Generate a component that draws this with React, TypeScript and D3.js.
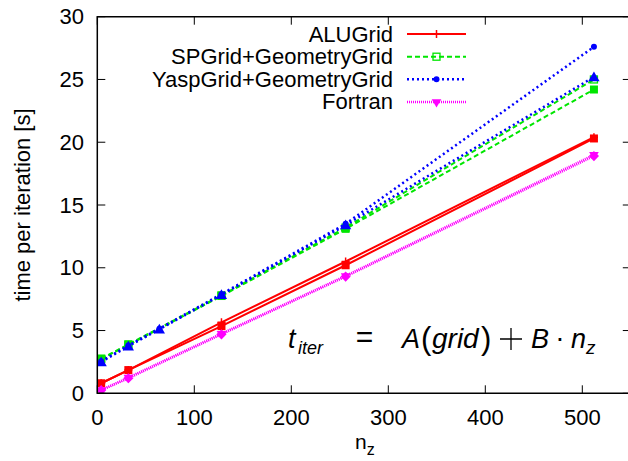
import React, { useEffect, useRef } from 'react';
import * as d3 from 'd3';

// problem sizes (n_z)
const nzShort = [4, 32, 128, 256, 512];
const nzLong = [4, 32, 64, 128, 256, 512];

// time per iteration [s], titled runs (legend) and second untitled runs
const aluTitled = [0.8, 1.85, 5.65, 10.5, 20.4];
const aluOther = [0.8, 1.85, 5.35, 10.2, 20.3];
const spTitled = [2.75, 3.9, 7.8, 13.2, 25.0];
const spOther = [2.75, 3.85, 7.75, 13.1, 24.2];
const yaspTitled = [2.55, 3.8, 5.15, 7.9, 13.5, 27.6];
const yaspOther = [2.5, 3.75, 5.1, 7.85, 13.4, 25.2];
const fortTitled = [0.25, 1.25, 4.75, 9.35, 19.0];
const fortOther = [0.25, 1.2, 4.7, 9.3, 18.9];

const seriesNames = ['ALUGrid', 'SPGrid+GeometryGrid', 'YaspGrid+GeometryGrid', 'Fortran'];
const xTicks = [0, 100, 200, 300, 400, 500];
const yTicks = [0, 5, 10, 15, 20, 25, 30];

const FONT = '"Liberation Sans", Arial, Helvetica, sans-serif';

export default function App() {
  const svgRef = useRef<SVGSVGElement>(null);

  useEffect(() => {
    if (!svgRef.current) return;
    const width = 628;
    const height = 461;
    const left = 97.3, right = 630.8, top = 16.7, bottom = 393.3;

    const svg = d3.select(svgRef.current);
    svg.selectAll('*').remove();

    const x = d3.scaleLinear().domain([0, 550]).range([left, right]);
    const y = d3.scaleLinear().domain([0, 30]).range([bottom, top]);

    const styles = [
      { color: '#ff0000', dash: null as string | null, lw: 2 },
      { color: '#00e600', dash: '5,3', lw: 2 },
      { color: '#0000ff', dash: '2,3', lw: 2.5 },
      { color: '#ff00ff', dash: '1,1', lw: 2.5 },
    ];

    const defs = svg.append('defs');
    defs.append('clipPath').attr('id', 'plotclip')
      .append('rect').attr('x', left).attr('y', top).attr('width', right - left).attr('height', bottom - top);

    // marker drawing
    const drawMarker = (g: any, kind: string, cx: number, cy: number, color: string) => {
      if (kind === 'plus') {
        g.append('path').attr('d', `M${cx - 4},${cy}H${cx + 4}M${cx},${cy - 4}V${cy + 4}`)
          .attr('stroke', color).attr('stroke-width', 1.5).attr('fill', 'none');
      } else if (kind === 'osquare') {
        g.append('rect').attr('x', cx - 3.5).attr('y', cy - 3.5).attr('width', 7).attr('height', 7)
          .attr('stroke', color).attr('stroke-width', 1.3).attr('fill', 'none');
      } else if (kind === 'circle') {
        g.append('circle').attr('cx', cx).attr('cy', cy).attr('r', 3).attr('fill', color);
      } else if (kind === 'tridown') {
        g.append('path').attr('d', d3.symbol().type(d3.symbolTriangle).size(40)())
          .attr('transform', `translate(${cx},${cy}) rotate(180)`).attr('fill', color);
      } else if (kind === 'square') {
        g.append('rect').attr('x', cx - 4).attr('y', cy - 4).attr('width', 8).attr('height', 8).attr('fill', color);
      } else if (kind === 'triangle') {
        g.append('path').attr('d', d3.symbol().type(d3.symbolTriangle).size(55)())
          .attr('transform', `translate(${cx},${cy + 1})`).attr('fill', color);
      } else if (kind === 'diamond') {
        g.append('rect').attr('x', -3.6).attr('y', -3.6).attr('width', 7.2).attr('height', 7.2)
          .attr('transform', `translate(${cx},${cy}) rotate(45)`).attr('fill', color);
      }
    };

    const series = [
      { xs: nzShort, ys: aluOther, s: 0, m: 'square' },
      { xs: nzShort, ys: aluTitled, s: 0, m: 'plus' },
      { xs: nzShort, ys: fortOther, s: 3, m: 'diamond' },
      { xs: nzShort, ys: fortTitled, s: 3, m: 'tridown' },
      { xs: nzShort, ys: spOther, s: 1, m: 'square' },
      { xs: nzShort, ys: spTitled, s: 1, m: 'osquare' },
      { xs: nzLong, ys: yaspOther, s: 2, m: 'triangle' },
      { xs: nzLong, ys: yaspTitled, s: 2, m: 'circle' },
    ];

    const plot = svg.append('g').attr('clip-path', 'url(#plotclip)');
    const line = d3.line<[number, number]>().x(d => x(d[0])).y(d => y(d[1]));
    series.forEach(ser => {
      const st = styles[ser.s];
      const pts: [number, number][] = ser.xs.map((v, i) => [v, ser.ys[i]]);
      plot.append('path').attr('d', line(pts)).attr('fill', 'none')
        .attr('stroke', st.color).attr('stroke-width', st.lw)
        .attr('stroke-dasharray', st.dash);
      pts.forEach(p => drawMarker(plot, ser.m, x(p[0]), y(p[1]), st.color));
    });

    // frame
    const frame = svg.append('g').attr('stroke', '#000').attr('stroke-width', 1.5).attr('fill', 'none');
    frame.append('path').attr('d', `M${right},${top}H${left}V${bottom}H${right}V${top}`);
    const tickLen = 8;
    xTicks.forEach(t => {
      frame.append('path').attr('d', `M${x(t)},${bottom}v${-tickLen}M${x(t)},${top}v${tickLen}`).attr('stroke-width', 1);
    });
    yTicks.forEach(t => {
      frame.append('path').attr('d', `M${left},${y(t)}h${tickLen}M${right},${y(t)}h${-tickLen}`).attr('stroke-width', 1);
    });

    const labels = svg.append('g').attr('font-family', FONT).attr('font-size', 22).attr('fill', '#000');
    xTicks.forEach(t => {
      labels.append('text').attr('x', x(t)).attr('y', 425).attr('text-anchor', 'middle').text(t);
    });
    yTicks.forEach(t => {
      labels.append('text').attr('x', 84).attr('y', y(t) + 7.5).attr('text-anchor', 'end').text(t);
    });

    // axis titles
    labels.append('text').attr('transform', `translate(30,${(top + bottom) / 2}) rotate(-90)`)
      .attr('text-anchor', 'middle').attr('font-size', 22).text('time per iteration [s]');
    const xl = labels.append('text').attr('x', 355).attr('y', 449).attr('font-size', 21);
    xl.append('tspan').text('n');
    xl.append('tspan').attr('dy', 6).attr('font-size', 16).text('z');

    // legend
    const legRows = [34, 56.7, 79.3, 101.9];
    const legMarkers = ['plus', 'osquare', 'circle', 'tridown'];
    seriesNames.forEach((name, i) => {
      const st = styles[i];
      labels.append('text').attr('x', 393).attr('y', legRows[i] + 7.5).attr('text-anchor', 'end').text(name);
      svg.append('path').attr('d', `M407,${legRows[i]}H466`).attr('stroke', st.color)
        .attr('stroke-width', st.lw).attr('stroke-dasharray', st.dash);
      drawMarker(svg, legMarkers[i], 436.5, legRows[i], st.color);
    });

    // equation
    const eq = svg.append('g').attr('font-family', FONT).attr('fill', '#000');
    const piece = (px: number, py: number, txt: string, size: number, italic: boolean, anchor = 'start') =>
      eq.append('text').attr('x', px).attr('y', py).attr('font-size', size)
        .attr('font-style', italic ? 'italic' : 'normal').attr('text-anchor', anchor).text(txt);
    const base = 348;
    piece(288, base, 't', 27, true);
    piece(298, base + 6, 'iter', 18, true);
    piece(364.5, base - 1, '=', 30, false, 'middle');
    piece(402, base, 'A', 27, true);
    piece(421, base + 1, '(', 31, false);
    piece(432, base, 'grid', 28, true);
    piece(481, base + 1, ')', 31, false);
    // thin math plus sign
    eq.append('path').attr('d', `M500,${base - 9}H522M511,${base - 20}V${base + 2}`)
      .attr('stroke', '#000').attr('stroke-width', 1.3).attr('fill', 'none');
    piece(531, base, 'B', 27, true);
    piece(560, base - 1, '·', 28, false, 'middle');
    piece(571, base, 'n', 27, true);
    piece(586, base + 6, 'z', 19, true);

    svg.attr('width', width).attr('height', height);
  }, []);

  return (
    <svg ref={svgRef} width={628} height={461}
      style={{ position: 'absolute', left: 0, top: 0, display: 'block', background: '#fff' }} />
  );
}
